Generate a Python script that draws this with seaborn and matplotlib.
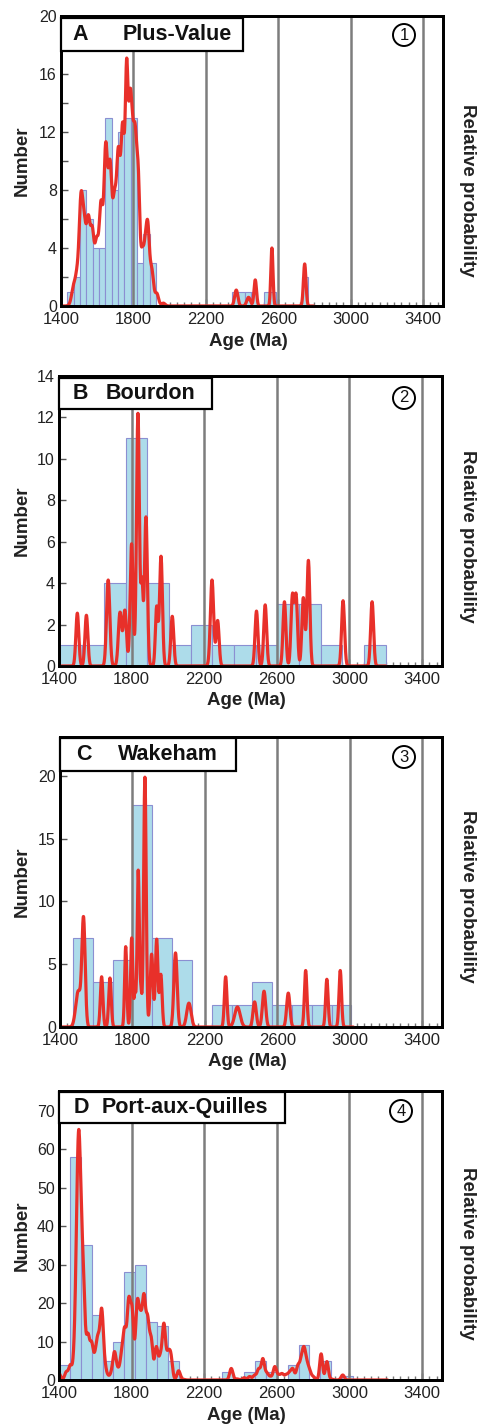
import numpy as np
import pandas as pd
import matplotlib
matplotlib.use("Agg")
import matplotlib.pyplot as plt
from matplotlib.patches import Rectangle, Ellipse
from matplotlib.ticker import MultipleLocator
import seaborn as sns

sns.set_theme(style="white")
plt.rcParams["font.family"] = ["Liberation Sans", "DejaVu Sans"]

# ---------------- data ----------------
panel_letters = ["A", "B", "C", "D"]
panel_names = ["Plus-Value", "Bourdon", "Wakeham", "Port-aux-Quilles"]
panel_numbers = ["1", "2", "3", "4"]
x_ticks = [1400, 1800, 2200, 2600, 3000, 3400]
ref_lines = [1800, 2200, 2600, 3000, 3400]

# histograms: first bin edge (Ma), bin width (Ma), counts per bin
a_bin_start, a_bin_width = 1435, 35
a_counts = [1, 2, 8, 6, 4, 4, 13, 8, 12, 13, 13, 3, 5, 3,
            0, 0, 0, 0, 0, 0, 0, 0, 0, 0, 0, 0,
            1, 1, 1, 1, 0, 1, 1, 0, 0, 0, 0, 2]
b_bin_start, b_bin_width = 1408, 119.5
b_counts = [1, 1, 4, 11, 4, 1, 2, 1, 1, 1, 3, 3, 1, 0, 1]
c_bin_start, c_bin_width = 1470, 110
c_counts = [7.1, 3.55, 5.3, 17.7, 7.1, 5.3, 0, 1.77, 1.77, 3.55, 1.77, 1.77, 1.77, 1.77]
d_bin_start, d_bin_width = 1400, 60
d_counts = [4, 58, 35, 17, 5, 10, 28, 30, 15, 14, 5,
            0, 0, 0, 0, 2, 0, 2, 5, 2, 0, 4, 9, 0, 5, 0, 1]

# probability-density curves: read ages (Ma), heights there, component widths (Ma)
a_peak_age = [1450, 1468, 1488, 1510, 1529, 1551, 1573, 1597, 1621, 1647, 1671, 1695, 1717,
              1741, 1763, 1781, 1794, 1809, 1827, 1849, 1864, 1879, 1901, 1929, 1965,
              2368, 2436, 2473, 2565, 2746]
a_peak_height = [0.3, 1.45, 2.7, 7.8, 6.4, 6.3, 5.5, 4.8, 7.3, 11.3, 10.1, 8.0, 11.0,
                 12.7, 17.1, 14.9, 13.4, 12.6, 9.6, 4.1, 4.8, 5.9, 2.7, 0.9, 0.2,
                 1.1, 0.6, 1.8, 4.0, 2.9]
a_peak_width = [10, 10, 10, 10, 10, 10, 10, 10, 10, 10, 10, 10, 10,
                10, 8, 8, 8, 9, 9, 8, 8, 9, 10, 10, 10,
                9, 10, 7, 6, 7]
a_curve_range = [1405, 2795]

b_peak_age = [1501, 1551, 1671, 1736, 1763, 1800, 1835, 1857, 1879, 1938, 1962, 2024,
              2243, 2274, 2488, 2536, 2642, 2686, 2706, 2746, 2774, 2965, 3125]
b_peak_height = [2.55, 2.45, 4.15, 2.6, 2.7, 5.9, 12.2, 4.3, 7.2, 2.9, 5.3, 2.4,
                 4.15, 2.2, 2.65, 2.95, 3.1, 3.5, 3.5, 3.3, 5.1, 3.15, 3.1]
b_peak_width = [8, 8, 9, 9, 9, 8, 8, 6, 8, 7, 8, 8,
                9, 8, 8, 8, 8, 8, 8, 8, 8, 8, 8]
b_curve_range = [1400, 3200]

c_peak_age = [1501, 1530, 1630, 1676, 1763, 1796, 1814, 1832, 1847, 1869, 1906, 1934, 1957,
              2038, 2112, 2315, 2380, 2475, 2527, 2661, 2757, 2874, 2948]
c_peak_height = [2.9, 8.8, 4.0, 3.9, 6.4, 7.1, 2.9, 12.5, 3.3, 19.9, 5.8, 7.0, 4.2,
                 5.9, 1.9, 4.0, 1.6, 2.0, 2.85, 2.7, 4.5, 3.8, 4.5]
c_peak_width = [14, 9, 7, 7, 6, 6, 5, 6, 5, 7, 8, 7, 7,
                9, 12, 7, 15, 9, 9, 9, 7, 7, 7]
c_curve_range = [1400, 3020]

d_peak_age = [1400, 1440, 1462, 1486, 1508, 1532, 1560, 1580, 1600, 1615, 1635, 1652, 1670,
              1690, 1706, 1725, 1745, 1762, 1784, 1803, 1831, 1849, 1868, 1888, 1908, 1936,
              1958, 1978, 2000, 2016, 2030, 2059, 2085,
              2349, 2380, 2420, 2450, 2477, 2500, 2523, 2545, 2565, 2589, 2610, 2629, 2651,
              2670, 2688, 2716, 2735, 2750, 2765, 2780, 2800, 2816, 2844, 2858, 2876, 2900, 2963]
d_peak_height = [1.7, 2.2, 4.0, 15.6, 65, 33, 12.2, 10, 8.0, 12, 18.7, 6.2, 1.4,
                 3.0, 7.4, 3.4, 8.0, 13.9, 21.5, 19, 20.8, 18.2, 22.5, 17, 11.3, 8.7,
                 7.0, 14.8, 7.8, 7.0, 1.4, 2.4, 0.2,
                 3.0, 0.3, 0.6, 0.9, 1.3, 3.0, 5.6, 2.0, 1.0, 3.5, 1.5, 1.7, 1.5,
                 2.2, 3.0, 4.0, 6.5, 8.7, 5.5, 3.0, 1.0, 0.3, 6.8, 2.0, 4.8, 0.3, 1.3]
d_peak_width = [9, 9, 9, 10, 12, 11, 9, 9, 9, 9, 9, 9, 9,
                9, 9, 9, 9, 9, 9, 9, 9, 9, 9, 9, 9, 9,
                9, 9, 9, 9, 9, 9, 9,
                9, 9, 9, 9, 9, 9, 9, 9, 9, 9, 9, 9, 9,
                9, 9, 9, 9, 9, 9, 9, 9, 9, 8, 8, 8, 9, 9]
d_curve_range = [1400, 3210]

y_max = [20, 14, 23.1, 75.2]
y_major = [4, 2, 5, 10]
y_minor = [2, None, None, None]

# ---------------- helpers ----------------
def density_curve(xs, ages, heights, widths):
    c = np.asarray(ages, float)
    h = np.asarray(heights, float)
    s = np.asarray(widths, float)
    M = np.exp(-(c[:, None] - c[None, :]) ** 2 / (2 * s[None, :] ** 2))
    amp = np.clip(np.linalg.solve(M, h), 0, None)
    return (amp[None, :] * np.exp(-(xs[:, None] - c[None, :]) ** 2 / (2 * s[None, :] ** 2))).sum(axis=1)

W, H = 478, 1427
fig = plt.figure(figsize=(W / 100, H / 100), dpi=100)

def fx(px):
    return px / W

def fy(py):
    return 1 - py / H

# layout (pixels)
ax_box = [(61, 16, 443, 306), (59, 376, 442, 666), (60, 737, 442, 1027), (59, 1091, 442, 1380)]
title_box = [(61, 18, 243, 51), (59, 378, 212, 409), (60, 738, 236, 771), (59, 1092, 285, 1123)]
letter_x = [72, 73, 76, 74]
name_x = [123, 106, 118, 102]
circle_xy = [(404, 35), (404, 398), (404, 757), (401, 1111)]
rel_label_y = [0.40, 0.448, 0.452, 0.44]

hists = [(a_bin_start, a_bin_width, a_counts), (b_bin_start, b_bin_width, b_counts),
         (c_bin_start, c_bin_width, c_counts), (d_bin_start, d_bin_width, d_counts)]
curves = [(a_peak_age, a_peak_height, a_peak_width, a_curve_range),
          (b_peak_age, b_peak_height, b_peak_width, b_curve_range),
          (c_peak_age, c_peak_height, c_peak_width, c_curve_range),
          (d_peak_age, d_peak_height, d_peak_width, d_curve_range)]

bar_face = "#addcea"
bar_edge = "#8b8fd2"
red = "#e8302a"
grey = "#7d7d7d"

for i in range(4):
    l, t, r, b = ax_box[i]
    ax = fig.add_axes([fx(l), fy(b), (r - l) / W, (b - t) / H])
    start, width, counts = hists[i]
    counts = [float(v) for v in counts]
    edges = [start + width * k for k in range(len(counts) + 1)]
    df = pd.DataFrame({"age": [e + width / 2 for e in edges[:-1]], "n": counts})
    sns.histplot(data=df, x="age", weights="n", bins=edges, ax=ax, stat="count",
                 color=bar_face, edgecolor=bar_edge, linewidth=0.8, alpha=1.0, zorder=1)
    for v in ref_lines:
        ax.axvline(v, color=grey, lw=1.8, zorder=2)
    ax.set_xlim(1400, 3510)
    ax.set_ylim(0, y_max[i])
    ax.set_xticks(x_ticks)
    ax.xaxis.set_minor_locator(MultipleLocator(40))
    ax.yaxis.set_major_locator(MultipleLocator(y_major[i]))
    if y_minor[i]:
        ax.yaxis.set_minor_locator(MultipleLocator(y_minor[i]))
    ax.tick_params(axis="x", which="both", direction="in", bottom=True, top=False,
                   labelsize=12, pad=4.5, labelcolor="#222222")
    ax.tick_params(axis="x", which="major", length=5, width=1, color="black")
    ax.tick_params(axis="x", which="minor", length=3, width=1, color="#777777")
    ax.tick_params(axis="y", which="both", direction="in", left=True, right=False,
                   color="#555555", labelsize=11.5, pad=3, labelcolor="#222222", length=5, width=1)
    ax.set_xlabel("Age (Ma)", fontsize=13.5, fontweight="bold", color="#222222")
    ax.xaxis.label.set_va("center")
    ax.xaxis.set_label_coords(0.49, -35 / (b - t))
    ax.set_ylabel("Number", fontsize=13.5, fontweight="bold", color="#222222")
    ax.yaxis.label.set_va("center")
    ax.yaxis.set_label_coords((22 - l) / (r - l), 0.5)
    for sp in ax.spines.values():
        sp.set_color("black")
        sp.set_linewidth(2.0)

    ax2 = ax.twinx()
    ages, heights, widths, rng = curves[i]
    xs = np.arange(rng[0], rng[1] + 1, 1.0)
    ys = density_curve(xs, ages, heights, widths)
    sns.lineplot(x=xs, y=ys, ax=ax2, color=red, linewidth=2.3, legend=False)
    ax2.set_ylim(0, y_max[i])
    ax2.set_xlim(1400, 3510)
    ax2.set_yticks([])
    ax2.set_ylabel("Relative probability", fontsize=13.5, fontweight="bold",
                   rotation=270, color="#222222")
    ax2.yaxis.label.set_va("center")
    ax2.yaxis.set_label_coords((468 - l) / (r - l), rel_label_y[i])
    for sp in ax2.spines.values():
        sp.set_color("black")
        sp.set_linewidth(2.0)

    # title box
    bl, bt, br, bb = title_box[i]
    fig.patches.append(Rectangle((fx(bl), fy(bb)), (br - bl) / W, (bb - bt) / H,
                                 transform=fig.transFigure, facecolor="white",
                                 edgecolor="black", linewidth=1.6, zorder=5))
    cy = (bt + bb) / 2
    fig.text(fx(letter_x[i]), fy(cy), panel_letters[i], fontsize=15.5, fontweight="bold",
             ha="left", va="center", color="#111111", zorder=6)
    fig.text(fx(name_x[i]), fy(cy), panel_names[i], fontsize=15.5, fontweight="bold",
             ha="left", va="center", color="#111111", zorder=6)
    # circled number
    cxp, cyp = circle_xy[i]
    rad = 11
    fig.patches.append(Ellipse((fx(cxp), fy(cyp)), 2 * rad / W, 2 * rad / H,
                               transform=fig.transFigure, facecolor="white",
                               edgecolor="black", linewidth=1.4, zorder=5))
    fig.text(fx(cxp), fy(cyp), panel_numbers[i], fontsize=12, ha="center", va="center",
             color="#111111", zorder=6)

fig.savefig("out.png", dpi=100)
